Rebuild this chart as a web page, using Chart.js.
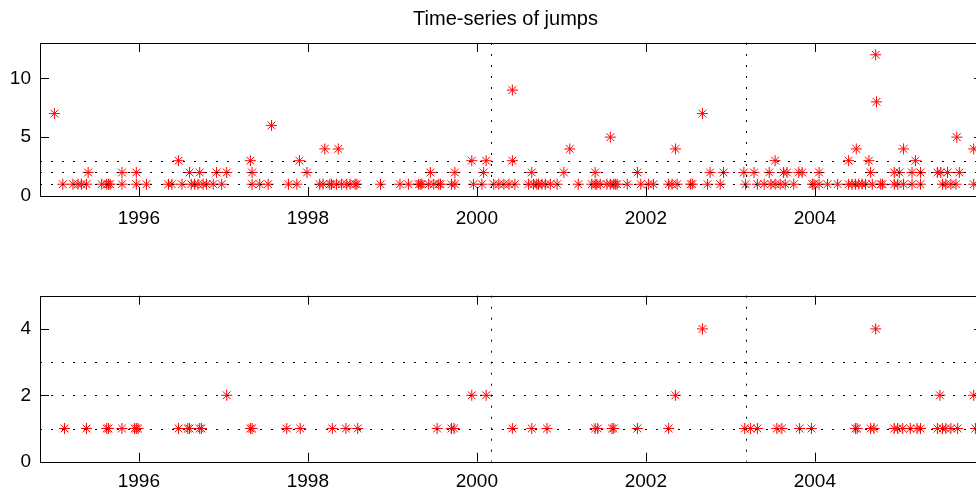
<!DOCTYPE html>
<html>
<head>
<meta charset="utf-8">
<script src="https://cdn.jsdelivr.net/npm/chart.js@4.4.0/dist/chart.umd.min.js"></script>
<style>
  html, body { margin: 0; padding: 0; background: #fff; width: 976px; height: 492px; overflow: hidden; }
  .panel { position: absolute; left: 0; }
  #topPanel { top: 0; }
  #bottomPanel { top: 252px; }
</style>
</head>
<body>
<div class="panel" id="topPanel"><canvas id="topChart" width="1011" height="240"></canvas></div>
<div class="panel" id="bottomPanel"><canvas id="bottomChart" width="1011" height="240"></canvas></div>
<script>
// jump dates (decimal years) and jump sizes
const topDates = [
  1995.00, 1995.10, 1995.22, 1995.28, 1995.32, 1995.38, 1995.40, 1995.56, 1995.62, 1995.64,
  1995.66, 1995.80, 1995.80, 1995.97, 1995.97, 1996.09, 1996.35, 1996.39, 1996.47, 1996.51,
  1996.60, 1996.62, 1996.66, 1996.70, 1996.72, 1996.76, 1996.80, 1996.88, 1996.92, 1996.98,
  1997.04, 1997.32, 1997.34, 1997.34, 1997.43, 1997.53, 1997.57, 1997.77, 1997.87, 1997.90,
  1997.99, 1998.14, 1998.18, 1998.20, 1998.26, 1998.28, 1998.34, 1998.36, 1998.40, 1998.46,
  1998.50, 1998.56, 1998.58, 1998.86, 1999.09, 1999.19, 1999.31, 1999.33, 1999.35, 1999.43,
  1999.45, 1999.49, 1999.55, 1999.57, 1999.70, 1999.74, 1999.74, 1999.94, 1999.96, 2000.06,
  2000.08, 2000.11, 2000.20, 2000.26, 2000.32, 2000.38, 2000.42, 2000.42, 2000.45, 2000.61,
  2000.65, 2000.67, 2000.71, 2000.73, 2000.77, 2000.81, 2000.87, 2000.95, 2001.03, 2001.10,
  2001.20, 2001.36, 2001.40, 2001.40, 2001.42, 2001.46, 2001.54, 2001.58, 2001.58, 2001.62,
  2001.64, 2001.66, 2001.78, 2001.90, 2001.94, 2002.03, 2002.09, 2002.27, 2002.31, 2002.35,
  2002.37, 2002.53, 2002.55, 2002.67, 2002.73, 2002.76, 2002.88, 2002.92, 2003.16, 2003.18,
  2003.28, 2003.32, 2003.40, 2003.46, 2003.48, 2003.53, 2003.53, 2003.59, 2003.63, 2003.65,
  2003.67, 2003.75, 2003.81, 2003.85, 2003.97, 2003.99, 2004.05, 2004.05, 2004.15, 2004.27,
  2004.40, 2004.40, 2004.44, 2004.48, 2004.49, 2004.52, 2004.56, 2004.60, 2004.64, 2004.66,
  2004.68, 2004.72, 2004.73, 2004.78, 2004.80, 2004.94, 2004.94, 2004.98, 2005.00, 2005.05,
  2005.05, 2005.15, 2005.15, 2005.19, 2005.25, 2005.25, 2005.45, 2005.49, 2005.51, 2005.55,
  2005.57, 2005.61, 2005.67, 2005.68, 2005.71, 2005.88, 2005.88
];
const topJumps = [
  7, 1, 1, 1, 1, 1, 2, 1, 1, 1,
  1, 1, 2, 1, 2, 1, 1, 1, 3, 1,
  2, 1, 1, 1, 2, 1, 1, 1, 2, 1,
  2, 3, 1, 2, 1, 1, 6, 1, 1, 3,
  2, 1, 1, 4, 1, 1, 1, 4, 1, 1,
  1, 1, 1, 1, 1, 1, 1, 1, 1, 1,
  2, 1, 1, 1, 1, 1, 2, 3, 1, 1,
  2, 3, 1, 1, 1, 1, 3, 9, 1, 1,
  2, 1, 1, 1, 1, 1, 1, 1, 2, 4,
  1, 1, 1, 2, 1, 1, 1, 1, 5, 1,
  1, 1, 1, 2, 1, 1, 1, 1, 1, 4,
  1, 1, 1, 7, 1, 2, 1, 2, 2, 1,
  2, 1, 1, 2, 1, 1, 3, 1, 2, 1,
  2, 1, 2, 2, 1, 1, 1, 2, 1, 1,
  1, 3, 1, 1, 4, 1, 1, 1, 3, 2,
  1, 12, 8, 1, 1, 1, 2, 1, 2, 1,
  4, 1, 2, 3, 1, 2, 2, 2, 1, 1,
  2, 1, 1, 5, 2, 1, 4
];

const bottomDates = [
  1995.12, 1995.38, 1995.62, 1995.64, 1995.80, 1995.95, 1995.97, 1995.99, 1996.47, 1996.58,
  1996.60, 1996.72, 1996.74, 1997.04, 1997.32, 1997.34, 1997.75, 1997.91, 1998.29, 1998.45,
  1998.59, 1999.53, 1999.70, 1999.73, 1999.94, 2000.11, 2000.42, 2000.65, 2000.83, 2001.40,
  2001.43, 2001.60, 2001.62, 2001.90, 2002.27, 2002.35, 2002.67, 2003.17, 2003.24, 2003.32,
  2003.55, 2003.61, 2003.82, 2003.96, 2004.48, 2004.50, 2004.66, 2004.70, 2004.72, 2004.94,
  2004.98, 2005.04, 2005.13, 2005.21, 2005.25, 2005.45, 2005.48, 2005.51, 2005.55, 2005.61,
  2005.69, 2005.88, 2005.90
];
const bottomJumps = [
  1, 1, 1, 1, 1, 1, 1, 1, 1, 1,
  1, 1, 1, 2, 1, 1, 1, 1, 1, 1,
  1, 1, 1, 1, 2, 2, 1, 1, 1, 1,
  1, 1, 1, 1, 1, 2, 4, 1, 1, 1,
  1, 1, 1, 1, 1, 1, 1, 1, 4, 1,
  1, 1, 1, 1, 1, 1, 2, 1, 1, 1,
  1, 2, 1
];

const levelLines = [1, 2, 3];          // dotted reference levels
const breakDates = [2000.17, 2003.19]; // dotted vertical markers
const xMin = 1994.83, xMax = 2005.99;

const tickFont = { family: "'Liberation Sans', Arial, sans-serif", size: 19 };

// matlab-style box: dotted refs, frame, inward ticks
const frame = {
  id: "frame",
  afterLayout(chart) {
    // let the y labels use the space left of the axis (title stays centred on the canvas)
    chart.scales.y.left = 0;
  },
  afterDatasetsDraw(chart) {
    const { ctx, chartArea: a, scales: { x, y } } = chart;
    ctx.save();
    ctx.strokeStyle = "#000";
    ctx.lineWidth = 1;
    ctx.setLineDash([2, 9]);
    levelLines.forEach(v => {
      const py = Math.round(y.getPixelForValue(v)) + 0.5;
      ctx.beginPath(); ctx.moveTo(a.left, py); ctx.lineTo(a.right, py); ctx.stroke();
    });
    breakDates.forEach(d => {
      const px = Math.round(x.getPixelForValue(d)) + 0.5;
      ctx.beginPath(); ctx.moveTo(px, a.top); ctx.lineTo(px, a.bottom); ctx.stroke();
    });
    ctx.setLineDash([]);
    ctx.strokeRect(Math.round(a.left) + 0.5, Math.round(a.top) + 0.5, Math.round(a.width), Math.round(a.height));
    const len = 9;
    ctx.beginPath();
    x.ticks.forEach(t => {
      const px = Math.round(x.getPixelForValue(t.value)) + 0.5;
      ctx.moveTo(px, a.bottom); ctx.lineTo(px, a.bottom - len);
      ctx.moveTo(px, a.top); ctx.lineTo(px, a.top + len);
    });
    y.ticks.forEach(t => {
      const py = Math.round(y.getPixelForValue(t.value)) + 0.5;
      ctx.moveTo(a.left, py); ctx.lineTo(a.left + len, py);
      ctx.moveTo(a.right, py); ctx.lineTo(a.right - len, py);
    });
    ctx.stroke();
    ctx.restore();
  }
};

function makeChart(id, dates, jumps, opts) {
  return new Chart(document.getElementById(id), {
    type: "scatter",
    data: {
      datasets: [{
        data: dates.map((d, i) => ({ x: d, y: jumps[i] })),
        pointStyle: "star",
        pointRadius: 5.5,
        pointHoverRadius: 5.5,
        borderWidth: 1,
        borderColor: "#ff0000",
        backgroundColor: "#ff0000"
      }]
    },
    options: {
      responsive: false,
      animation: false,
      layout: { padding: { left: 28, right: 28, top: opts.padTop, bottom: 0 } },
      plugins: {
        legend: { display: false },
        tooltip: { enabled: false },
        title: opts.title ? {
          display: true,
          text: opts.title,
          color: "#000",
          font: { family: "'Liberation Sans', Arial, sans-serif", size: 20, weight: "normal" },
          padding: { top: 7.5, bottom: 11.5 }
        } : { display: false }
      },
      scales: {
        x: {
          type: "linear",
          min: xMin,
          max: xMax,
          grid: { display: false, drawTicks: false },
          border: { display: false },
          ticks: {
            stepSize: 2,
            includeBounds: false,
            autoSkip: false,
            maxRotation: 0,
            padding: opts.xPad,
            color: "#000",
            font: tickFont,
            callback: v => String(v)
          },
          afterFit: s => { s.height = opts.xHeight; }
        },
        y: {
          min: 0,
          max: opts.yMax,
          grid: { display: false, drawTicks: false },
          border: { display: false },
          ticks: {
            stepSize: opts.yStep,
            includeBounds: false,
            padding: 9,
            color: "#000",
            font: tickFont,
            callback: v => String(v)
          },
          afterFit: s => { s.width = 12; }
        }
      }
    },
    plugins: [frame]
  });
}

makeChart("topChart", topDates, topJumps, {
  title: "Time-series of jumps", padTop: 0, yMax: 13, yStep: 5, xPad: 11, xHeight: 44
});
makeChart("bottomChart", bottomDates, bottomJumps, {
  title: null, padTop: 43.7, yMax: 5, yStep: 2, xPad: 9, xHeight: 30.3
});
</script>
</body>
</html>
